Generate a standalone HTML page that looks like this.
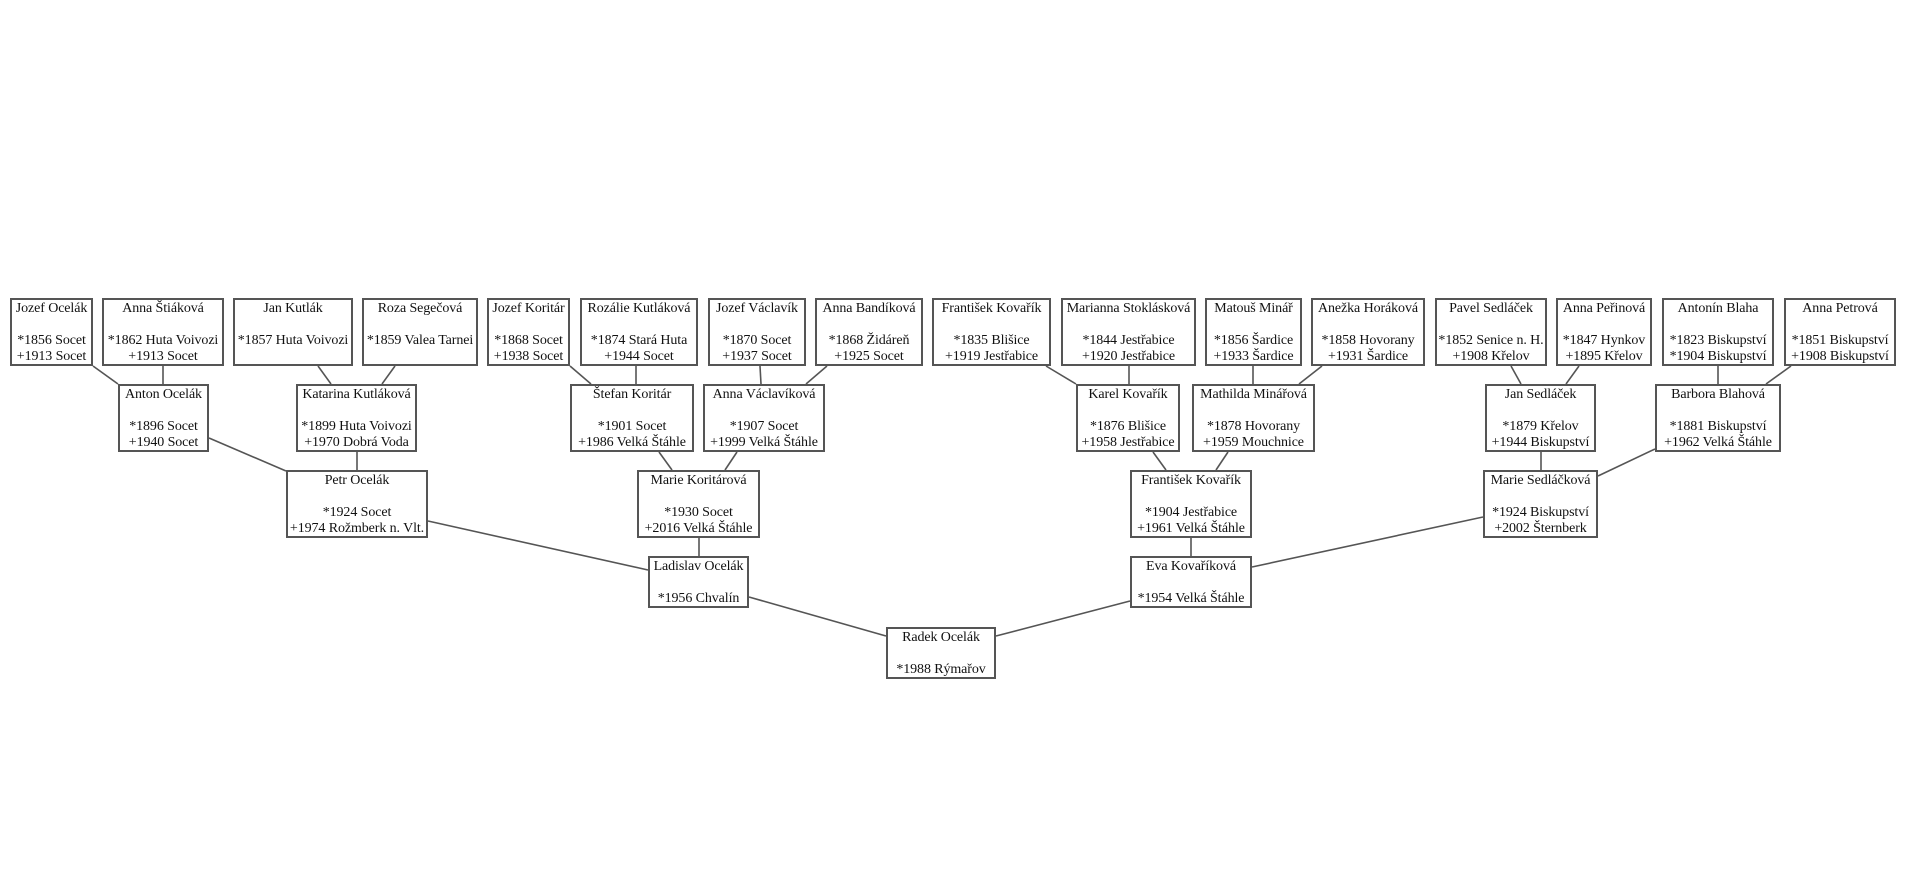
<!DOCTYPE html>
<html><head><meta charset="utf-8"><style>
body{margin:0;width:1909px;height:889px;background:#fff;position:relative;overflow:hidden;font-family:"Liberation Serif",serif;}
.b{position:absolute;box-sizing:border-box;border:2px solid #555;background:#fff;text-align:center;font-size:14px;line-height:16px;color:#111;padding-top:1px;white-space:nowrap;overflow:visible;letter-spacing:-0.1px;}
svg{position:absolute;left:0;top:0}
</style></head><body>
<svg width="1909" height="889"><g stroke="#555" stroke-width="1.6" fill="none">
<line x1="93" y1="366" x2="118" y2="384"/><line x1="163" y1="366" x2="163" y2="384"/>
<line x1="318" y1="366" x2="331" y2="384"/><line x1="395" y1="366" x2="382" y2="384"/>
<line x1="357" y1="452" x2="357" y2="470"/><line x1="209" y1="438" x2="286" y2="471"/>
<line x1="428" y1="521" x2="648" y2="570"/>
<line x1="570" y1="366" x2="591" y2="384"/><line x1="636" y1="366" x2="636" y2="384"/>
<line x1="760" y1="366" x2="761" y2="384"/><line x1="827" y1="366" x2="806" y2="384"/>
<line x1="659" y1="452" x2="672" y2="470"/><line x1="737" y1="452" x2="725" y2="470"/>
<line x1="699" y1="538" x2="699" y2="557"/>
<line x1="749" y1="597" x2="886" y2="636"/><line x1="996" y1="636" x2="1130" y2="601"/>
<line x1="1046" y1="366" x2="1076" y2="384"/><line x1="1129" y1="366" x2="1129" y2="384"/>
<line x1="1153" y1="452" x2="1166" y2="470"/><line x1="1228" y1="452" x2="1216" y2="470"/>
<line x1="1191" y1="538" x2="1191" y2="557"/><line x1="1253" y1="366" x2="1253" y2="384"/>
<line x1="1322" y1="366" x2="1299" y2="384"/>
<line x1="1252" y1="567" x2="1483" y2="517"/>
<line x1="1511" y1="366" x2="1521" y2="384"/><line x1="1579" y1="366" x2="1566" y2="384"/>
<line x1="1541" y1="452" x2="1541" y2="470"/><line x1="1718" y1="366" x2="1718" y2="384"/>
<line x1="1791" y1="366" x2="1766" y2="384"/><line x1="1655" y1="449" x2="1598" y2="476"/>
</g></svg>

<div class="b" style="left:10px;top:298px;width:83px;height:68px">Jozef Ocelák<br><br>*1856 Socet<br>+1913 Socet</div>
<div class="b" style="left:102px;top:298px;width:122px;height:68px">Anna Štiáková<br><br>*1862 Huta Voivozi<br>+1913 Socet</div>
<div class="b" style="left:233px;top:298px;width:120px;height:68px">Jan Kutlák<br><br>*1857 Huta Voivozi</div>
<div class="b" style="left:362px;top:298px;width:116px;height:68px">Roza Segečová<br><br>*1859 Valea Tarnei</div>
<div class="b" style="left:487px;top:298px;width:83px;height:68px">Jozef Koritár<br><br>*1868 Socet<br>+1938 Socet</div>
<div class="b" style="left:580px;top:298px;width:118px;height:68px">Rozálie Kutláková<br><br>*1874 Stará Huta<br>+1944 Socet</div>
<div class="b" style="left:708px;top:298px;width:98px;height:68px">Jozef Václavík<br><br>*1870 Socet<br>+1937 Socet</div>
<div class="b" style="left:815px;top:298px;width:108px;height:68px">Anna Bandíková<br><br>*1868 Židáreň<br>+1925 Socet</div>
<div class="b" style="left:932px;top:298px;width:119px;height:68px">František Kovařík<br><br>*1835 Blišice<br>+1919 Jestřabice</div>
<div class="b" style="left:1061px;top:298px;width:135px;height:68px">Marianna Stoklásková<br><br>*1844 Jestřabice<br>+1920 Jestřabice</div>
<div class="b" style="left:1205px;top:298px;width:97px;height:68px">Matouš Minář<br><br>*1856 Šardice<br>+1933 Šardice</div>
<div class="b" style="left:1311px;top:298px;width:114px;height:68px">Anežka Horáková<br><br>*1858 Hovorany<br>+1931 Šardice</div>
<div class="b" style="left:1435px;top:298px;width:112px;height:68px">Pavel Sedláček<br><br>*1852 Senice n. H.<br>+1908 Křelov</div>
<div class="b" style="left:1556px;top:298px;width:96px;height:68px">Anna Peřinová<br><br>*1847 Hynkov<br>+1895 Křelov</div>
<div class="b" style="left:1662px;top:298px;width:112px;height:68px">Antonín Blaha<br><br>*1823 Biskupství<br>*1904 Biskupství</div>
<div class="b" style="left:1784px;top:298px;width:112px;height:68px">Anna Petrová<br><br>*1851 Biskupství<br>+1908 Biskupství</div>

<div class="b" style="left:118px;top:384px;width:91px;height:68px">Anton Ocelák<br><br>*1896 Socet<br>+1940 Socet</div>
<div class="b" style="left:296px;top:384px;width:121px;height:68px">Katarina Kutláková<br><br>*1899 Huta Voivozi<br>+1970 Dobrá Voda</div>
<div class="b" style="left:570px;top:384px;width:124px;height:68px">Štefan Koritár<br><br>*1901 Socet<br>+1986 Velká Štáhle</div>
<div class="b" style="left:703px;top:384px;width:122px;height:68px">Anna Václavíková<br><br>*1907 Socet<br>+1999 Velká Štáhle</div>
<div class="b" style="left:1076px;top:384px;width:104px;height:68px">Karel Kovařík<br><br>*1876 Blišice<br>+1958 Jestřabice</div>
<div class="b" style="left:1192px;top:384px;width:123px;height:68px">Mathilda Minářová<br><br>*1878 Hovorany<br>+1959 Mouchnice</div>
<div class="b" style="left:1485px;top:384px;width:111px;height:68px">Jan Sedláček<br><br>*1879 Křelov<br>+1944 Biskupství</div>
<div class="b" style="left:1655px;top:384px;width:126px;height:68px">Barbora Blahová<br><br>*1881 Biskupství<br>+1962 Velká Štáhle</div>

<div class="b" style="left:286px;top:470px;width:142px;height:68px">Petr Ocelák<br><br>*1924 Socet<br>+1974 Rožmberk n. Vlt.</div>
<div class="b" style="left:637px;top:470px;width:123px;height:68px">Marie Koritárová<br><br>*1930 Socet<br>+2016 Velká Štáhle</div>
<div class="b" style="left:1130px;top:470px;width:122px;height:68px">František Kovařík<br><br>*1904 Jestřabice<br>+1961 Velká Štáhle</div>
<div class="b" style="left:1483px;top:470px;width:115px;height:68px">Marie Sedláčková<br><br>*1924 Biskupství<br>+2002 Šternberk</div>

<div class="b" style="left:648px;top:556px;width:101px;height:52px">Ladislav Ocelák<br><br>*1956 Chvalín</div>
<div class="b" style="left:1130px;top:556px;width:122px;height:52px">Eva Kovaříková<br><br>*1954 Velká Štáhle</div>
<div class="b" style="left:886px;top:627px;width:110px;height:52px">Radek Ocelák<br><br>*1988 Rýmařov</div>
</body></html>
